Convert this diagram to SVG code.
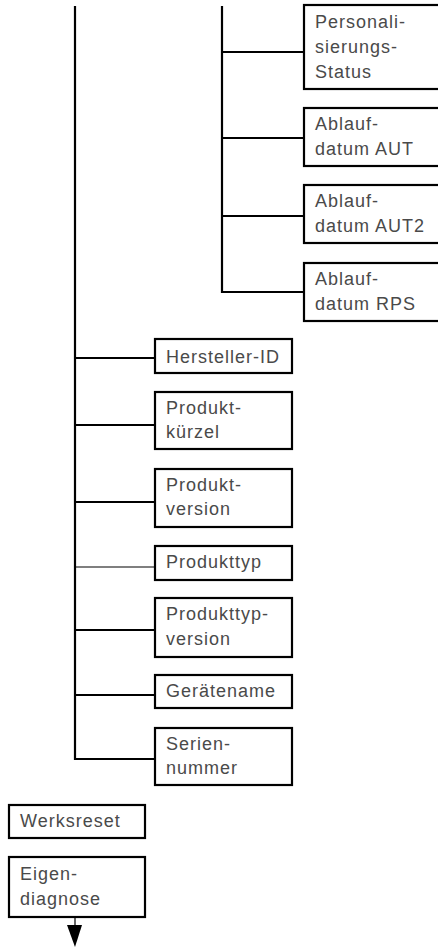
<svg xmlns="http://www.w3.org/2000/svg" width="438" height="949" viewBox="0 0 438 949">
<defs>
<style>
.box{fill:#fff;stroke:#000;stroke-width:2.2}
.t{font-family:"Liberation Sans","DejaVu Sans",sans-serif;font-size:18px;letter-spacing:1px;fill:#4a4a4a}
.c{stroke:#000;stroke-width:2.2;fill:none}
.thin{stroke:#000;stroke-width:1.2;fill:none}
</style>
</defs>
<g id="connectors">
<line class="c" x1="75" y1="6" x2="75" y2="760"/>
<line class="c" x1="222" y1="6" x2="222" y2="293"/>
<line class="c" x1="221" y1="52" x2="304" y2="52"/>
<line class="c" x1="221" y1="138" x2="304" y2="138"/>
<line class="c" x1="221" y1="216" x2="304" y2="216"/>
<line class="c" x1="221" y1="292" x2="304" y2="292"/>
<line class="c" x1="74" y1="358" x2="155" y2="358"/>
<line class="c" x1="74" y1="425" x2="155" y2="425"/>
<line class="c" x1="74" y1="502" x2="155" y2="502"/>
<line class="thin" x1="74" y1="567" x2="155" y2="567"/>
<line class="c" x1="74" y1="630" x2="155" y2="630"/>
<line class="c" x1="74" y1="695" x2="155" y2="695"/>
<line class="c" x1="74" y1="759" x2="155" y2="759"/>
<line class="thin" x1="75" y1="917" x2="75" y2="926"/>
<polygon points="67,925 82,925 75,947" fill="#000"/>
</g>
<g id="n-personalisierung">
<rect class="box" x="304" y="5" width="140" height="84"/>
<text class="t" x="315" y="28">Personali-</text>
<text class="t" x="315" y="53">sierungs-</text>
<text class="t" x="315" y="78">Status</text>
</g>
<g id="n-aut">
<rect class="box" x="304" y="108" width="140" height="58"/>
<text class="t" x="315" y="130">Ablauf-</text>
<text class="t" x="315" y="155">datum AUT</text>
</g>
<g id="n-aut2">
<rect class="box" x="304" y="185" width="140" height="58"/>
<text class="t" x="315" y="207">Ablauf-</text>
<text class="t" x="315" y="232">datum AUT2</text>
</g>
<g id="n-rps">
<rect class="box" x="304" y="263" width="140" height="58"/>
<text class="t" x="315" y="285">Ablauf-</text>
<text class="t" x="315" y="310">datum RPS</text>
</g>
<g id="n-hersteller">
<rect class="box" x="155" y="339" width="137" height="34"/>
<text class="t" x="166" y="363">Hersteller-ID</text>
</g>
<g id="n-kuerzel">
<rect class="box" x="155" y="392" width="137" height="57"/>
<text class="t" x="166" y="414">Produkt-</text>
<text class="t" x="166" y="438">kürzel</text>
</g>
<g id="n-version">
<rect class="box" x="155" y="469" width="137" height="58"/>
<text class="t" x="166" y="491">Produkt-</text>
<text class="t" x="166" y="515">version</text>
</g>
<g id="n-typ">
<rect class="box" x="155" y="546" width="137" height="34"/>
<text class="t" x="166" y="568">Produkttyp</text>
</g>
<g id="n-typversion">
<rect class="box" x="155" y="598" width="137" height="59"/>
<text class="t" x="166" y="620">Produkttyp-</text>
<text class="t" x="166" y="645">version</text>
</g>
<g id="n-geraetename">
<rect class="box" x="155" y="675" width="137" height="33"/>
<text class="t" x="166" y="697">Gerätename</text>
</g>
<g id="n-seriennummer">
<rect class="box" x="155" y="728" width="137" height="57"/>
<text class="t" x="166" y="750">Serien-</text>
<text class="t" x="166" y="774">nummer</text>
</g>
<g id="n-werksreset">
<rect class="box" x="9" y="805" width="136" height="33"/>
<text class="t" x="20" y="827">Werksreset</text>
</g>
<g id="n-eigendiagnose">
<rect class="box" x="9" y="857" width="136" height="60"/>
<text class="t" x="20" y="880">Eigen-</text>
<text class="t" x="20" y="905">diagnose</text>
</g>
</svg>
